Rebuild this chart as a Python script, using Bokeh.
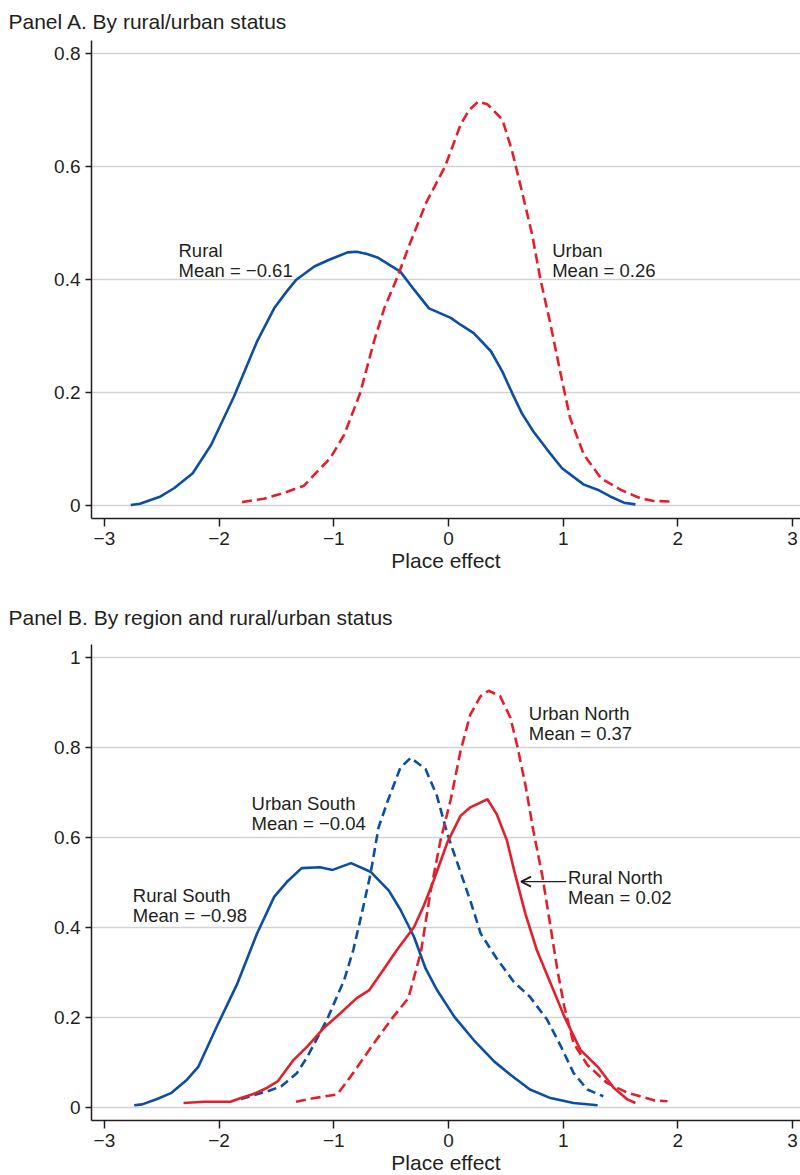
from bokeh.plotting import figure
from bokeh.layouts import column
from bokeh.models import Range1d, FixedTicker, Arrow, OpenHead, Title
from bokeh.core.properties import value
from bokeh.embed import file_html
from bokeh.resources import INLINE

# ---------------- data ----------------
# Panel A
rural_x = [-2.77, -2.69, -2.51, -2.39, -2.23, -2.07, -1.87, -1.67, -1.52, -1.41, -1.33, -1.17, -1.04,
           -0.88, -0.80, -0.71, -0.62, -0.42, -0.30, -0.17, 0.02, 0.105, 0.22, 0.37, 0.47, 0.555,
           0.64, 0.74, 0.86, 0.99, 1.18, 1.30, 1.41, 1.53, 1.63]
rural_y = [0.001, 0.003, 0.016, 0.031, 0.057, 0.107, 0.193, 0.29, 0.349, 0.379, 0.399, 0.423, 0.435,
           0.448, 0.449, 0.445, 0.439, 0.414, 0.382, 0.349, 0.332, 0.320, 0.305, 0.273, 0.237, 0.199,
           0.163, 0.131, 0.099, 0.066, 0.037, 0.028, 0.016, 0.005, 0.002]
urban_x = [-1.80, -1.61, -1.44, -1.26, -1.145, -1.03, -0.91, -0.77, -0.65, -0.56, -0.45, -0.33, -0.19,
           -0.03, 0.02, 0.105, 0.18, 0.26, 0.34, 0.47, 0.555, 0.64, 0.73, 0.80, 0.89, 0.98, 1.06,
           1.18, 1.33, 1.50, 1.67, 1.79, 1.94]
urban_y = [0.006, 0.012, 0.022, 0.035, 0.060, 0.084, 0.125, 0.199, 0.29, 0.349, 0.402, 0.467, 0.538,
           0.600, 0.627, 0.674, 0.700, 0.715, 0.710, 0.683, 0.627, 0.556, 0.479, 0.402, 0.320, 0.231,
           0.155, 0.090, 0.048, 0.028, 0.013, 0.008, 0.007]

# Panel B
rs_x = [-2.74, -2.67, -2.54, -2.42, -2.28, -2.18, -2.02, -1.84, -1.67, -1.52, -1.41, -1.28, -1.12,
        -1.01, -0.85, -0.68, -0.52, -0.42, -0.30, -0.20, -0.10, 0.05, 0.22, 0.40, 0.54, 0.71, 0.89,
        1.09, 1.30]
rs_y = [0.005, 0.007, 0.019, 0.032, 0.062, 0.091, 0.180, 0.276, 0.386, 0.468, 0.501, 0.532, 0.534,
        0.528, 0.543, 0.524, 0.482, 0.440, 0.379, 0.309, 0.261, 0.202, 0.150, 0.102, 0.073, 0.040,
        0.021, 0.010, 0.005]
us_x = [-1.81, -1.58, -1.46, -1.32, -1.23, -1.06, -0.91, -0.83, -0.75, -0.68, -0.61, -0.53, -0.42,
        -0.33, -0.20, -0.10, -0.01, 0.09, 0.19, 0.28, 0.42, 0.57, 0.71, 0.86, 0.98, 1.09, 1.21, 1.35]
us_y = [0.019, 0.036, 0.047, 0.077, 0.113, 0.195, 0.283, 0.350, 0.438, 0.519, 0.622, 0.681, 0.755,
        0.777, 0.752, 0.692, 0.608, 0.534, 0.460, 0.387, 0.331, 0.279, 0.246, 0.195, 0.136, 0.077,
        0.040, 0.025]
rn_x = [-2.31, -2.13, -1.90, -1.81, -1.70, -1.58, -1.49, -1.35, -1.23, -1.09, -0.94, -0.80, -0.69,
        -0.59, -0.45, -0.30, -0.215, -0.13, -0.01, 0.105, 0.19, 0.34, 0.42, 0.51, 0.58, 0.67, 0.77,
        0.89, 1.01, 1.15, 1.31, 1.44, 1.56, 1.63]
rn_y = [0.010, 0.013, 0.013, 0.021, 0.030, 0.044, 0.058, 0.106, 0.136, 0.176, 0.210, 0.243, 0.261,
        0.298, 0.350, 0.401, 0.449, 0.504, 0.589, 0.648, 0.667, 0.685, 0.652, 0.593, 0.519, 0.431,
        0.350, 0.276, 0.202, 0.128, 0.088, 0.044, 0.018, 0.010]
un_x = [-1.33, -1.17, -0.97, -0.83, -0.65, -0.48, -0.35, -0.24, -0.16, -0.07, 0.02, 0.105, 0.19,
        0.28, 0.35, 0.45, 0.54, 0.60, 0.67, 0.74, 0.82, 0.89, 0.95, 1.01, 1.09, 1.21, 1.38, 1.56,
        1.67, 1.79, 1.91]
un_y = [0.013, 0.021, 0.029, 0.077, 0.143, 0.202, 0.243, 0.346, 0.475, 0.593, 0.685, 0.792, 0.873,
        0.914, 0.926, 0.914, 0.866, 0.803, 0.718, 0.615, 0.512, 0.401, 0.305, 0.224, 0.143, 0.095,
        0.055, 0.033, 0.025, 0.016, 0.014]

x_ticks = [-3, -2, -1, 0, 1, 2, 3]
x_tick_labels = ["\u22123", "\u22122", "\u22121", "0", "1", "2", "3"]
ya_ticks = [0, 0.2, 0.4, 0.6, 0.8]
ya_tick_labels = ["0", "0.2", "0.4", "0.6", "0.8"]
yb_ticks = [0, 0.2, 0.4, 0.6, 0.8, 1]
yb_tick_labels = ["0", "0.2", "0.4", "0.6", "0.8", "1"]

title_a = "Panel A. By rural/urban status"
title_b = "Panel B. By region and rural/urban status"
x_label = "Place effect"

ann_a_name = ["Rural", "Urban"]
ann_a_mean = ["Mean = \u22120.61", "Mean = 0.26"]
ann_a_x = [-2.354, 0.904]
ann_a_y = [0.451, 0.451]

ann_b_name = ["Rural South", "Urban South", "Urban North", "Rural North"]
ann_b_mean = ["Mean = \u22120.98", "Mean = \u22120.04", "Mean = 0.37", "Mean = 0.02"]
ann_b_x = [-2.752, -1.717, 0.70, 1.043]
ann_b_y = [0.471, 0.675, 0.875, 0.512]

# ---------------- style ----------------
FONT = "Liberation Sans"
FONT_V = value(FONT)
TXT = "#231f20"
BLUE = "#0b4ea2"
RED = "#e2202c"
GRID = "#d2d2d2"
X_RANGE = (-3.1125, 3.069)


def make_fig(frame_h, top, bottom, yr, yt, ytl, title_text, title_standoff):
    p = figure(frame_width=709, frame_height=frame_h,
               min_border_left=91, min_border_right=0,
               min_border_top=top, min_border_bottom=bottom,
               x_range=Range1d(*X_RANGE), y_range=Range1d(*yr),
               output_backend="svg", toolbar_location=None, tools="")
    p.title = Title(text=title_text, align="left", offset=-83,
                    text_font=FONT, text_font_size="21px", text_font_style="normal",
                    text_color=TXT, standoff=title_standoff)
    p.outline_line_color = None
    p.background_fill_color = "white"
    p.border_fill_color = "white"
    p.xgrid.visible = False
    p.ygrid.ticker = FixedTicker(ticks=yt)
    p.ygrid.grid_line_color = GRID
    p.ygrid.grid_line_width = 1.3

    xa = p.xaxis[0]
    xa.ticker = FixedTicker(ticks=x_ticks)
    xa.major_label_overrides = {t: s for t, s in zip(x_ticks, x_tick_labels)}
    xa.axis_label = x_label
    xa.axis_label_text_font = FONT
    xa.axis_label_text_font_size = "21px"
    xa.axis_label_text_font_style = "normal"
    xa.axis_label_text_color = TXT
    xa.axis_label_standoff = 1
    xa.major_label_standoff = 5
    xa.major_tick_out = 8
    xa.major_tick_in = 0

    ya = p.yaxis[0]
    ya.ticker = FixedTicker(ticks=yt)
    ya.major_label_overrides = {t: s for t, s in zip(yt, ytl)}
    ya.major_label_standoff = 5
    ya.major_tick_out = 6
    ya.major_tick_in = 0

    for ax in (xa, ya):
        ax.minor_tick_out = 0
        ax.minor_tick_in = 0
        ax.axis_line_color = TXT
        ax.axis_line_width = 1.5
        ax.major_tick_line_color = TXT
        ax.major_tick_line_width = 1.5
        ax.major_label_text_font = FONT
        ax.major_label_text_font_size = "19px"
        ax.major_label_text_color = TXT
    return p


def add_ann(p, xs, ys, names, means):
    p.text(x=xs, y=ys, text=names, text_font=FONT_V, text_font_size="18.5px",
           text_color=TXT, text_baseline="alphabetic", text_align="left")
    p.text(x=xs, y=ys, text=means, text_font=FONT_V, text_font_size="18.5px",
           text_color=TXT, text_baseline="alphabetic", text_align="left", y_offset=20)


# ---------------- Panel A ----------------
pa = make_fig(478, 39, 58, (-0.0230, 0.8230), ya_ticks, ya_tick_labels, title_a, 15)
pa.line(rural_x, rural_y, line_color=BLUE, line_width=2.6)
pa.line(urban_x, urban_y, line_color=RED, line_width=2.6, line_dash="10 5")
add_ann(pa, ann_a_x, ann_a_y, ann_a_name, ann_a_mean)

# ---------------- Panel B ----------------
pb = make_fig(476, 68, 0, (-0.0288, 1.0288), yb_ticks, yb_tick_labels, title_b, 30.4)
pb.line(rs_x, rs_y, line_color=BLUE, line_width=2.6)
pb.line(us_x, us_y, line_color=BLUE, line_width=2.6, line_dash="9 5")
pb.line(rn_x, rn_y, line_color=RED, line_width=2.6)
pb.line(un_x, un_y, line_color=RED, line_width=2.6, line_dash="10 5")
add_ann(pb, ann_b_x, ann_b_y, ann_b_name, ann_b_mean)
pb.add_layout(Arrow(x_start=1.026, y_start=0.502, x_end=0.633, y_end=0.502,
                    line_color=TXT, line_width=1.4,
                    end=OpenHead(size=10, line_width=1.8, line_color=TXT)))

layout = column(pa, pb, spacing=0)
open("out.html", "w").write(file_html(layout, INLINE))
